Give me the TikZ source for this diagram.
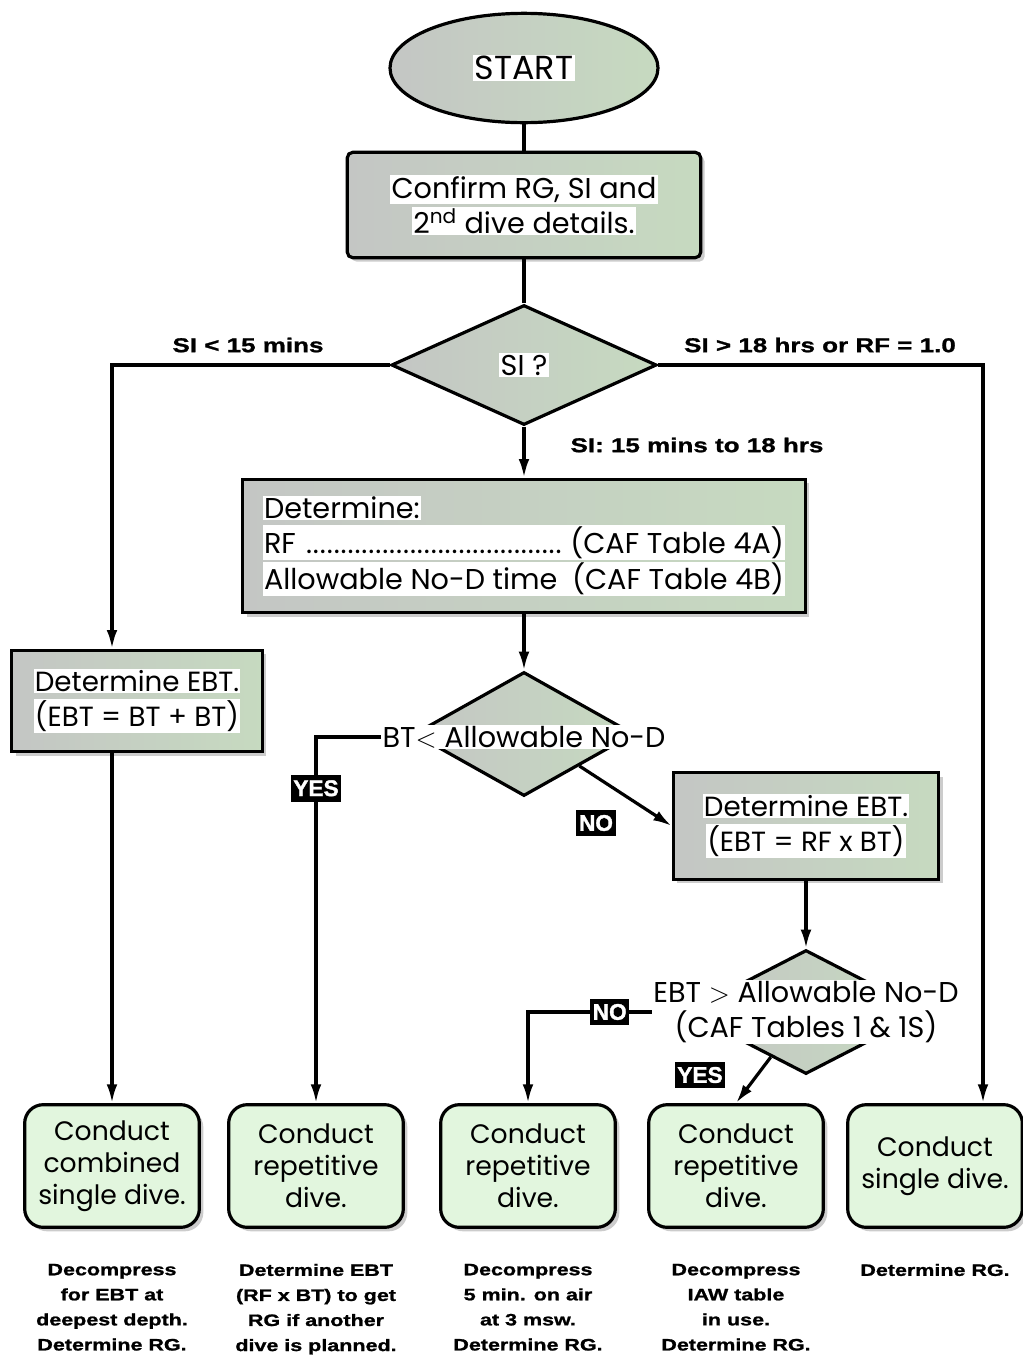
\documentclass[tikz,border=0pt]{standalone}
\usepackage{fontspec}
\setmainfont{Poppins}
\newfontfamily\widefont[FakeStretch=1.3, BoldFeatures={FakeBold=1.2}]{Liberation Sans}
\newfontfamily\heavyfont[BoldFeatures={FakeBold=1.5}]{Liberation Sans}
\usetikzlibrary{shapes.geometric, positioning, shadows, arrows.meta}
\definecolor{boxgray}{RGB}{196,198,196}
\definecolor{boxgreen}{RGB}{198,218,192}
\definecolor{endgreen}{RGB}{226,246,222}
\newcommand{\hl}[1]{\colorbox{white}{#1}}
\newcommand{\dotrow}{\leaders\hbox to 5.2pt{\hss.\hss}\hfill}
\newcommand{\boxfont}{\fontsize{21.5}{26}\selectfont}
\newcommand{\leaffont}{\fontsize{20}{24}\selectfont}
\newcommand{\condfont}{\widefont\bfseries\fontsize{15}{17}\selectfont}
\newcommand{\tagfont}{\heavyfont\bfseries\fontsize{17}{18}\selectfont}
\newcommand{\notefont}{\widefont\bfseries\fontsize{12.4}{18.8}\selectfont}
\setlength{\fboxsep}{1pt}

\begin{document}
\begin{tikzpicture}[x=0.75pt, y=-0.75pt,
    line/.style={line width=2.4pt},
    arrow/.style={line width=2.4pt, -{Latex[length=14pt, width=8pt]}},
    shaded/.style={left color=boxgray, right color=boxgreen},
    shadowed/.style={drop shadow={shadow xshift=3pt, shadow yshift=-3pt, fill=black!40}},
    startnode/.style={ellipse, draw, line width=2.4pt, shaded, minimum width=201pt, minimum height=82pt, font=\fontsize{25}{28}\selectfont},
    procbox/.style={rectangle, draw, line width=2.4pt, shaded, shadowed, align=center, font=\boxfont},
    decision/.style={diamond, draw, line width=2.4pt, shaded, inner sep=0pt, font=\boxfont},
    question/.style={fill=white, inner sep=1pt, align=center, font=\boxfont},
    leafbox/.style={rectangle, rounded corners=14pt, draw, line width=2.4pt, fill=endgreen, shadowed, minimum width=131pt, minimum height=92pt, align=center, font=\leaffont},
    cond/.style={font=\condfont, inner sep=1pt},
    tag/.style={fill=black, text=white, font=\tagfont, inner xsep=2pt, inner ysep=4pt},
    note/.style={font=\notefont, align=center, inner sep=0pt}
    ]
    \useasboundingbox (0,0) rectangle (1022,1360);

    % boxes
    \node[startnode] (start) at (524,68) {\hl{START}};
    \node[procbox, rounded corners=4pt, minimum width=265pt, minimum height=79pt] (confirm) at (524,205)
        {\hl{Confirm RG, SI and}\\\hl{2\textsuperscript{nd} dive details.}};
    \node[decision, minimum width=199pt, minimum height=90pt] (si) at (524,365) {\hl{SI ?}};
    \node[procbox, minimum width=422pt, minimum height=100pt, align=left] (rf) at (524,546)
        {\hl{Determine:}\\
         \hl{\makebox[390pt][l]{RF \dotrow\ (CAF Table 4A)}}\\
         \hl{\makebox[390pt][l]{Allowable No-D time\hfill(CAF Table 4B)}}};
    \node[procbox, minimum width=188pt, minimum height=76pt, font=\fontsize{20.8}{26}\selectfont] (ebtA) at (137,701)
        {\hl{Determine EBT.}\\\hl{(EBT = BT + BT)}};
    \node[decision, minimum width=165pt, minimum height=93pt] (bt) at (524,734) {};
    \node[question] (btq) at (524,737) {BT$<$ Allowable No-D};
    \node[procbox, minimum width=199pt, minimum height=80pt, font=\fontsize{20.8}{26}\selectfont] (ebtB) at (806,826)
        {\hl{Determine EBT.}\\\hl{(EBT = RF x BT)}};
    \node[decision, minimum width=180pt, minimum height=93pt] (ebt) at (806,1012) {};
    \node[question] (ebtq) at (806,1012) {EBT $>$ Allowable No-D\\(CAF Tables 1 \& 1S)};

    \node[leafbox] (box1) at (112,1166) {Conduct\\combined\\single dive.};
    \node[leafbox] (box2) at (316,1166) {Conduct\\repetitive\\dive.};
    \node[leafbox] (box3) at (528,1166) {Conduct\\repetitive\\dive.};
    \node[leafbox] (box4) at (736,1166) {Conduct\\repetitive\\dive.};
    \node[leafbox] (box5) at (935,1166) {Conduct\\single dive.};

    % notes
    \node[note, below=26pt of box1] (note1) {Decompress\\for EBT at\\deepest depth.\\Determine RG.};
    \node[note, below=26pt of box2] (note2) {Determine EBT\\(RF x BT) to get\\RG if another\\dive is planned.};
    \node[note, below=26pt of box3] (note3) {Decompress\\5 min. on air\\at 3 msw.\\Determine RG.};
    \node[note, below=26pt of box4] (note4) {Decompress\\IAW table\\in use.\\Determine RG.};
    \node[note, below=26pt of box5] (note5) {Determine RG.};

    % conditions
    \node[cond] (lt15) at (248,345) {SI < 15 mins};
    \node[cond] (gt18) at (820,345) {SI > 18 hrs or RF = 1.0};
    \node[cond] (mid) at (697,445) {SI: 15 mins to 18 hrs};

    % connectors
    \draw[line] (start) -- (confirm);
    \draw[line] (confirm) -- (si);
    \draw[arrow] (si.west) -| (box1 |- ebtA.north);
    \draw[arrow] (si.east) -| ([xshift=36pt]box5.north);
    \draw[arrow] (si) -- (rf);
    \draw[arrow] (rf) -- (bt);
    \draw[arrow] (box1 |- ebtA.south) -- (box1);
    \draw[arrow] (btq.west) -| node[tag, pos=0.57] {YES} (box2);
    \draw[arrow] (bt.-30) -- (ebtB.west);
    \node[tag] (no1) at (596,823) {NO};
    \draw[arrow] (ebtB) -- (ebt);
    \draw[arrow] (ebtq.west) -| node[tag, pos=0.17] {NO} (box3);
    \draw[arrow] (ebt.-128) -- (box4.north);
    \node[tag] (yes2) at (700,1075) {YES};
\end{tikzpicture}
\end{document}
